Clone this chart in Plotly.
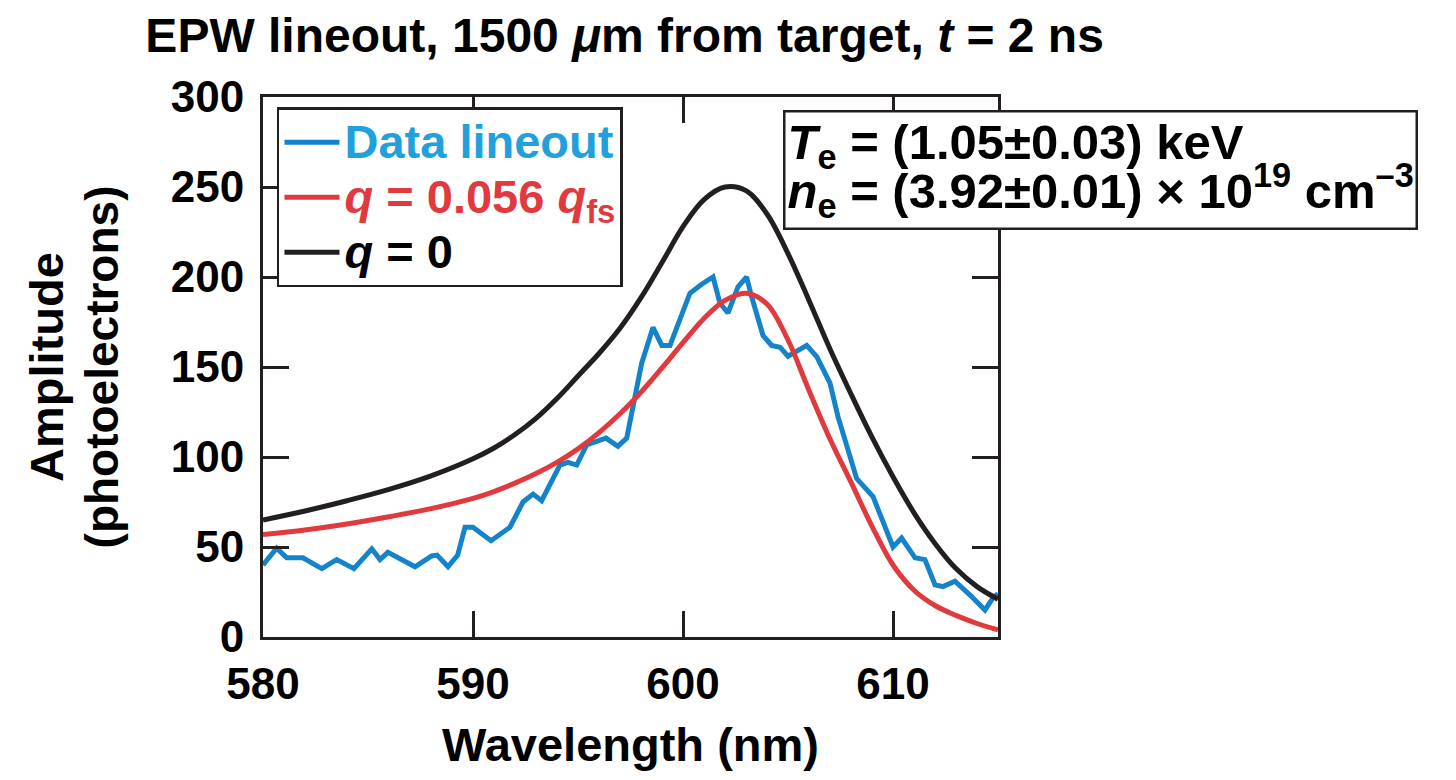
import plotly.graph_objects as go

# Measured EPW lineout (wavelength in nm, amplitude in photoelectrons)
data_wl = [580.00, 580.65, 581.13, 581.90, 582.80, 583.51, 584.33, 585.18, 585.57, 585.95,
           587.24, 588.03, 588.29, 588.81, 589.27, 589.62, 590.00, 590.86, 591.76, 592.38,
           592.86, 593.27, 594.14, 594.52, 594.94, 595.41, 596.33, 596.90, 597.32, 597.71,
           598.03, 598.57, 598.99, 599.38, 600.33, 600.89, 601.19, 601.43, 601.76, 602.14,
           602.62, 603.03, 603.27, 603.81, 604.22, 604.62, 605.00, 605.89, 606.37, 607.00,
           607.38, 607.79, 608.27, 609.05, 609.76, 610.00, 610.41, 611.05, 611.52, 612.00,
           612.38, 612.95, 613.67, 614.38, 614.76, 615.00]
data_amp = [40, 49.4, 44, 44, 38, 43, 38, 49, 43, 47,
            39, 45, 45.5, 39, 45.5, 61, 61, 53.5, 61, 75,
            79.4, 75.7, 95.5, 97, 95.5, 106.7, 110.5, 106, 110.5, 133.5,
            152, 172, 162, 162, 191, 196, 198, 200, 185.5, 180,
            194.6, 200, 189, 167.5, 162, 161, 156, 162, 155.7, 141,
            122.4, 105.7, 88, 78, 57.6, 50, 55, 44, 43, 29,
            28, 31, 23.3, 15, 21.7, 24]

# Model spectra sampled on a wavelength grid
fit_wl = [580, 582, 584, 586, 588, 590, 591, 592, 593, 594, 595, 596, 597, 598, 599, 600,
          601, 602, 603, 604, 605, 606, 607, 608, 609, 610, 611, 612, 613, 614, 615]
fit_q056 = [57, 59.5, 62.8, 66.8, 71.3, 77, 80.8, 85.5, 90.8, 97, 104.5, 113.5, 124, 136, 149.5, 163.5,
            177, 187, 191, 185, 165, 137, 110, 86, 61.5, 40, 26, 17.5, 12, 7.5, 4]
fit_q0 = [65, 70, 75.7, 82, 89.5, 99, 105, 112.5, 121.5, 132.5, 145, 157.5, 171.5, 188.5, 208, 228,
          243, 250, 248, 235, 213, 187, 160, 135, 111, 89, 69, 52, 38, 28, 21]

x_ticks = [580, 590, 600, 610]
y_ticks = [0, 50, 100, 150, 200, 250, 300]

BLUE = "#1583c9"
BLUE_TXT = "#22a0dc"
RED = "#e0393e"
INK = "#231f20"
FONT = "Liberation Sans"


def big(text, size, color=None):
    """Wrap text in a span with its own font size (and colour)."""
    style = f"font-size:{size}px"
    if color:
        style += f";color:{color}"
    return f'<span style="{style}">{text}</span>'


fig = go.Figure()
fig.add_trace(go.Scatter(
    x=data_wl, y=data_amp, mode="lines",
    line=dict(color=BLUE, width=5),
    name=big("Data lineout", 47, BLUE_TXT)))
fig.add_trace(go.Scatter(
    x=fit_wl, y=fit_q056, mode="lines", line_shape="spline",
    line=dict(color=RED, width=5),
    name=big("<i>q</i> = 0.056 <i>q</i><sub>fs</sub>", 47, RED)))
fig.add_trace(go.Scatter(
    x=fit_wl, y=fit_q0, mode="lines", line_shape="spline",
    line=dict(color=INK, width=5),
    name=big("<i>q</i> = 0", 47)))

axis_common = dict(
    showgrid=False, zeroline=False, showline=True, linewidth=3, linecolor=INK,
    mirror="ticks", ticks="inside", ticklen=26, tickwidth=3, tickcolor=INK,
    tickfont=dict(family=FONT, size=44, color="black", weight="bold"),
)

fig.update_xaxes(
    range=[580, 615], tickvals=x_ticks, ticktext=[str(v) for v in x_ticks],
    ticklabelstandoff=6,
    title=dict(text="Wavelength (nm)", standoff=22,
               font=dict(family=FONT, size=47, color="black", weight="bold")),
    **axis_common)
fig.update_yaxes(
    range=[0, 300], tickvals=y_ticks, ticktext=[str(v) for v in y_ticks],
    ticklabelstandoff=7,
    title=dict(text=big("Amplitude", 47) + "<br>" + big("(photoelectrons)", 46),
               standoff=40,
               font=dict(family=FONT, size=42, color="black", weight="bold")),
    **axis_common)

fig.add_annotation(
    xref="paper", yref="paper", x=0.7075, y=0.976, xanchor="left", yanchor="top",
    text=big("<i>T</i><sub>e</sub> = (1.05±0.03) keV", 49) + "<br>"
         + big("<i>n</i><sub>e</sub> = (3.92±0.01) × 10<sup>19</sup> cm<sup>–3</sup>", 49),
    align="left", showarrow=False,
    font=dict(family=FONT, size=38, color="black", weight="bold"),
    bgcolor="white", bordercolor=INK, borderwidth=2.5, borderpad=2)

fig.update_layout(
    width=1456, height=780,
    margin=dict(l=263, r=458, t=97, b=143),
    paper_bgcolor="white", plot_bgcolor="white",
    title=dict(text="EPW lineout, 1500 <i>μ</i>m from target, <i>t</i> = 2 ns",
               x=0.429, xanchor="center", y=0.955, yanchor="middle",
               font=dict(family=FONT, size=48, color="black", weight="bold")),
    legend=dict(x=0.019, y=0.981, xanchor="left", yanchor="top",
                bgcolor="white", bordercolor=INK, borderwidth=2.5,
                font=dict(family=FONT, size=40, color="black", weight="bold"),
                itemwidth=55, tracegroupgap=0),
    showlegend=True,
)

fig.write_html("out.html")
